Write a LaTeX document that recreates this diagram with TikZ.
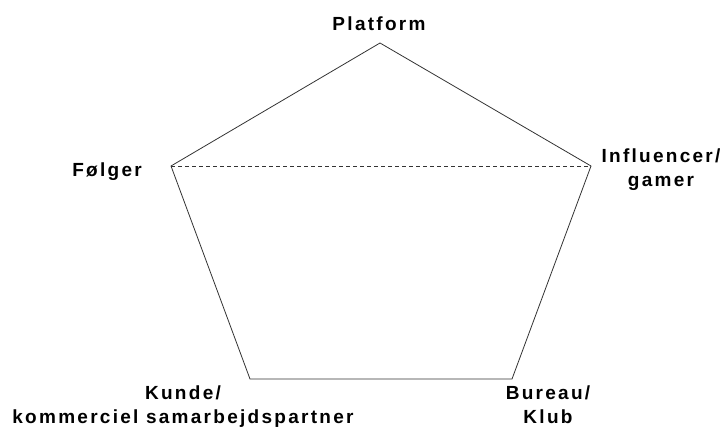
\documentclass[tikz,border=0pt]{standalone}
\usepackage{fontspec}
\setmainfont{Liberation Sans}
\newfontfamily\lblfont[LetterSpace=12]{Liberation Sans Bold}
\begin{document}
\begin{tikzpicture}[x=1pt,y=-1pt,
  edge/.style={draw=black!80,line width=0.8pt},
  cross/.style={draw=black!80,line width=0.8pt,dash pattern=on 4pt off 3pt},
  lbl/.style={inner sep=0pt,align=center,anchor=base,font=\lblfont\fontsize{19}{24}\selectfont}]
\useasboundingbox (0,0) rectangle (720,427);
\coordinate (P) at (380,43);
\coordinate (F) at (171,166);
\coordinate (I) at (591,166);
\coordinate (K) at (250,379);
\coordinate (B) at (512,379);
\draw[edge] (F) -- (P) -- (I) -- (B) -- (K) -- cycle;
\draw[cross] (F) -- (I);
\node[lbl] (tP) at (379,31) {Platform};
\node[lbl] (tF) at (107,177) {Følger};
\node[lbl] (tI) at (661,187) {Influencer/\\gamer};
\node[lbl] (tK) at (183,423) {Kunde/\\kommerciel samarbejdspartner};
\node[lbl] (tB) at (548,423) {Bureau/\\Klub};
\end{tikzpicture}
\end{document}
